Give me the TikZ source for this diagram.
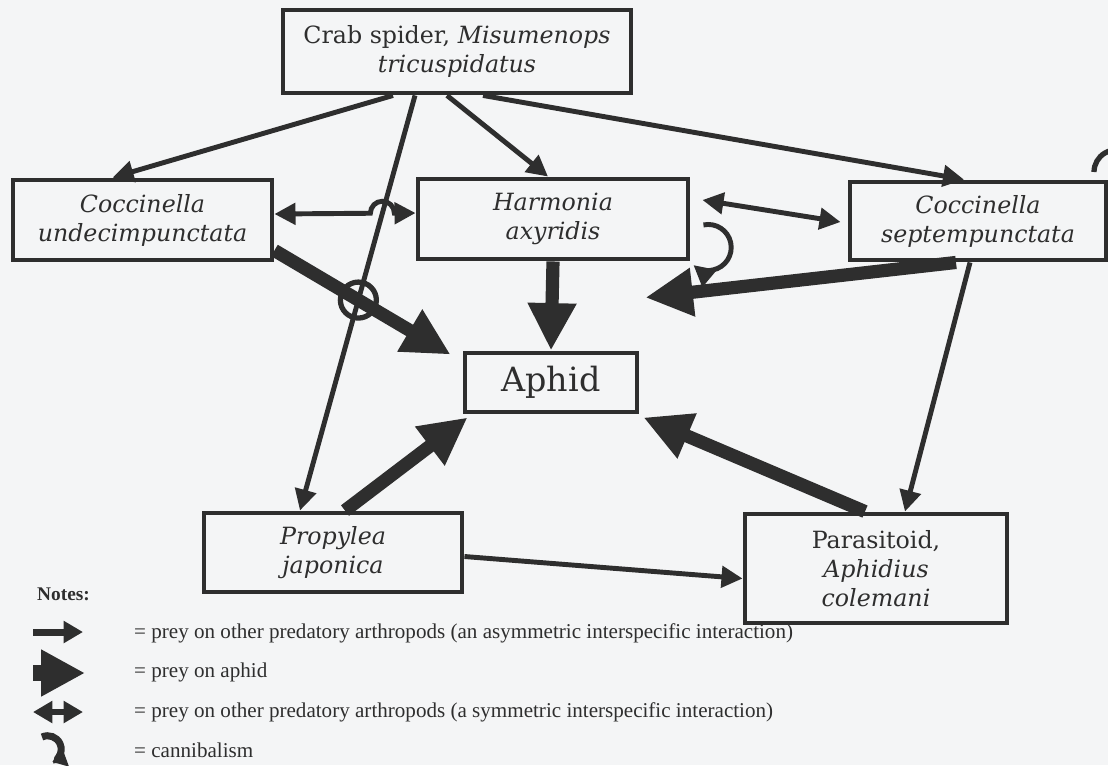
\documentclass[tikz,border=0pt]{standalone}
\usepackage{fontspec}
\setmainfont{DejaVu Serif}
\newfontfamily\notefont{Liberation Serif}
\usepackage{xcolor}
\usepackage{tikz}
\usetikzlibrary{arrows.meta, calc}
\definecolor{ink}{HTML}{2E2E2E}
\definecolor{paper}{HTML}{F4F5F6}

\begin{document}
\begin{tikzpicture}[x=0.02cm, y=-0.02cm,
			every node/.style={text=ink},
			species/.style={draw=ink, line width=2.8pt, align=center, inner sep=0pt,
				font=\fontsize{13.5}{16.5}\selectfont},
			preyon/.style={draw=ink, line width=2.8pt, -{Triangle[length=12pt,width=12pt]}},
			mutual/.style={draw=ink, line width=2.8pt,
				{Triangle[length=12pt,width=12pt]}-{Triangle[length=12pt,width=12pt]}},
			onaphid/.style={draw=ink, line width=7.5pt, -{Triangle[length=27pt,width=26pt]}},
			note/.style={anchor=west, font=\notefont\fontsize{12}{14}\selectfont}]

			\fill[paper] (0,0) rectangle (1108,765);
			\useasboundingbox (0,0) rectangle (1108,765);

			\node[species, minimum width=6.96cm, minimum height=1.66cm] (spider) at (457,51.5) {Crab spider, \textit{Misumenops}\\\textit{tricuspidatus}};
			\node[species, minimum width=5.18cm, minimum height=1.6cm] (undecim) at (142.5,220) {\textit{Coccinella}\\\textit{undecimpunctata}};
			\node[species, minimum width=5.4cm, minimum height=1.6cm] (harmonia) at (553,219) {\textit{Harmonia}\\\textit{axyridis}};
			\node[species, minimum width=5.12cm, minimum height=1.56cm] (septem) at (978,221) {\textit{Coccinella}\\\textit{septempunctata}};
			\node[species, minimum width=3.44cm, minimum height=1.18cm, font=\fontsize{19}{22}\selectfont] (aphid) at (551,382.5) {Aphid};
			\node[species, minimum width=5.16cm, minimum height=1.58cm] (propylea) at (333,552.5) {\textit{Propylea}\\\textit{japonica}};
			\node[species, minimum width=5.24cm, minimum height=2.18cm] (parasitoid) at (876,568.5) {Parasitoid,\\\textit{Aphidius}\\\textit{colemani}};

			\coordinate (uE) at ($(undecim.east)+(0,-6)$);
			\coordinate (hW) at ($(harmonia.west)+(0,-6)$);
			\coordinate (sP) at ($(spider.south)+(-42,0)$);
			\coordinate (pN) at ($(propylea.north)+(-33,0)$);
			\coordinate (uSE) at ($(undecim.south east)+(0,-12)$);
			\coordinate (aNW) at ($(aphid.north west)+(-12,4)$);
			\coordinate (hop) at (intersection of uE--hW and sP--pN);
			\coordinate (loop) at (intersection of uSE--aNW and sP--pN);

			\draw[onaphid] (uSE) -- (aNW);
			\draw[onaphid] (harmonia.south) -- (aphid.north);
			\draw[onaphid] ($(septem.south)+(-22,0)$) -- ($(aphid.north east)+(6,-53)$);
			\draw[onaphid] ($(propylea.north)+(12,0)$) -- ($(aphid.south west)+(5,3)$);
			\draw[onaphid] ($(parasitoid.north)+(-11,0)$) -- ($(aphid.south east)+(4,3)$);

			\draw[preyon] ($(spider.south)+(-64,0)$) -- ($(undecim.north)+(-30,0)$);
			\draw[preyon] (sP) -- (pN);
			\draw[preyon] ($(spider.south)+(-10,0)$) -- ($(harmonia.north)+(-5,0)$);
			\draw[preyon] ($(spider.south)+(26,0)$) -- ($(septem.north)+(-14,0)$);
			\draw[preyon] ($(septem.south)+(-8,0)$) -- ($(parasitoid.north)+(29,0)$);
			\draw[preyon] ($(propylea.east)+(0,4)$) -- ($(parasitoid.west)+(0,10)$);

			\draw[mutual] (uE) -- ($(hop)+(-0.24cm,0)$) arc[start angle=180, end angle=0, radius=0.24cm] -- (hW);
			\draw[mutual] ($(harmonia.east)+(12,-19)$) -- ($(septem.west)+(-7,1)$);
			\draw[ink, line width=3pt] (loop) circle[radius=0.36cm];

			\draw[preyon] ($(harmonia.south east)+(13,-36.5)$) arc[start angle=102, end angle=-130, radius=0.46cm];
			\draw[ink, line width=3pt] (1094,172) arc[start angle=180, end angle=80, radius=0.44cm];

			\node[note, font=\notefont\bfseries\fontsize{11}{13}\selectfont] (notes) at (31,594) {Notes:};
			\draw[ink, line width=4pt, -{Triangle[length=11pt,width=12pt]}] (33,632) -- (83,632);
			\draw[ink, line width=9pt, -{Triangle[length=25pt,width=25pt]}] (33,673) -- (85,673);
			\draw[ink, line width=3pt, {Triangle[length=11pt,width=12pt]}-{Triangle[length=11pt,width=12pt]}] (33,712) -- (83,712);
			\draw[ink, line width=4pt, -{Triangle[length=8pt,width=11pt]}] (42,737) arc[start angle=115, end angle=-70, radius=0.27cm];
			\node[note] (asym) at (128,633) {= prey on other predatory arthropods (an asymmetric interspecific interaction)};
			\node[note] (aph) at (128,672) {= prey on aphid};
			\node[note] (sym) at (128,712) {= prey on other predatory arthropods (a symmetric interspecific interaction)};
			\node[note] (can) at (128,750) {= cannibalism};
		\end{tikzpicture}
\end{document}
